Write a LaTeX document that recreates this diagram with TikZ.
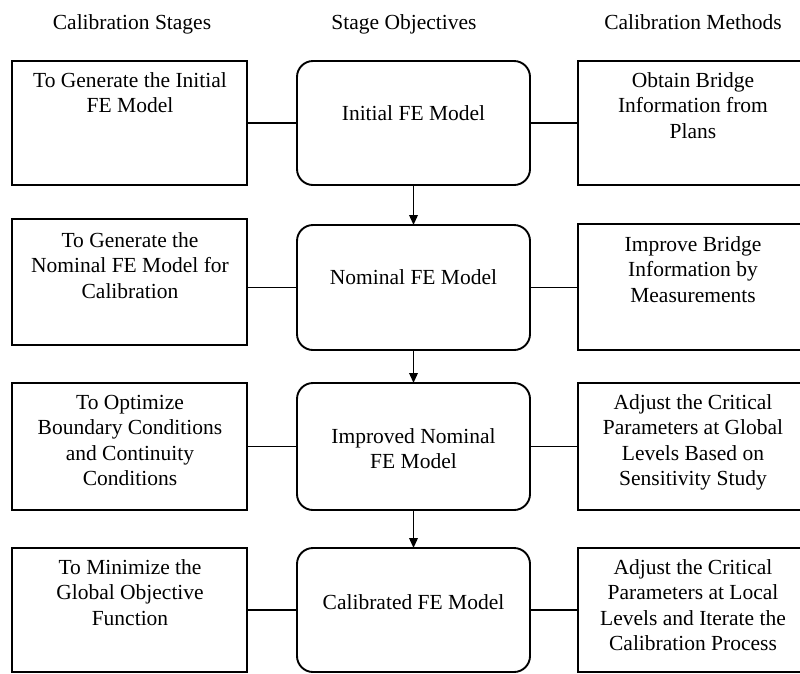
\documentclass[tikz,border=0pt]{standalone}
\usepackage{fontspec}
\setmainfont{Liberation Serif}
\usetikzlibrary{arrows.meta}
\begin{document}
\begin{tikzpicture}[x=1pt,y=-1pt,
  box/.style={draw, line width=1.9pt, inner sep=0pt, outer sep=0pt},
  rbox/.style={box, rounded corners=16pt},
  txt/.style={font=\fontsize{21.5}{25.5}\selectfont, align=center, inner sep=0pt},
  link/.style={line width=1.9pt},
  flow/.style={line width=1.9pt, -{Triangle[length=10pt,width=8.5pt]}}]
\clip (0,0) rectangle (800,673);
\fill[white] (0,0) rectangle (800,673);
% headers
\node[txt, anchor=base] (h1) at (132,29) {Calibration Stages};
\node[txt, anchor=base] (h2) at (404,29) {Stage Objectives};
\node[txt, anchor=base] (h3) at (693,29) {Calibration Methods};
% left boxes
\node[box, minimum width=235pt, minimum height=124pt] (L1) at (129.5,123) {};
\node[box, minimum width=235pt, minimum height=126pt] (L2) at (129.5,282) {};
\node[box, minimum width=235pt, minimum height=127pt] (L3) at (129.5,446.5) {};
\node[box, minimum width=235pt, minimum height=124pt] (L4) at (129.5,610) {};
% middle boxes
\node[rbox, minimum width=233pt, minimum height=124pt] (M1) at (413.5,123) {};
\node[rbox, minimum width=233pt, minimum height=125pt] (M2) at (413.5,287.5) {};
\node[rbox, minimum width=233pt, minimum height=127pt] (M3) at (413.5,446.5) {};
\node[rbox, minimum width=233pt, minimum height=124pt] (M4) at (413.5,610) {};
% right boxes
\node[box, minimum width=234pt, minimum height=124pt] (R1) at (695,123) {};
\node[box, minimum width=234pt, minimum height=126pt] (R2) at (695,287) {};
\node[box, minimum width=234pt, minimum height=127pt] (R3) at (695,446.5) {};
\node[box, minimum width=234pt, minimum height=124pt] (R4) at (695,610) {};
% texts left
\node[txt, anchor=north] (tL1) at (130,72) {To Generate the Initial\\FE Model};
\node[txt, anchor=north] (tL2) at (130,232) {To Generate the\\Nominal FE Model for\\Calibration};
\node[txt, anchor=north] (tL3) at (130,395) {To Optimize\\Boundary Conditions\\and Continuity\\Conditions};
\node[txt, anchor=north] (tL4) at (130,559) {To Minimize the\\Global Objective\\Function};
% texts middle
\node[txt] (tM1) at (413.5,113) {Initial FE Model};
\node[txt] (tM2) at (413.5,277) {Nominal FE Model};
\node[txt] (tM3) at (413.5,448.5) {Improved Nominal\\FE Model};
\node[txt] (tM4) at (413.5,602) {Calibrated FE Model};
% texts right
\node[txt, anchor=north] (tR1) at (693,72) {Obtain Bridge\\Information from\\Plans};
\node[txt, anchor=north] (tR2) at (693,236) {Improve Bridge\\Information by\\Measurements};
\node[txt, anchor=north] (tR3) at (693,394) {Adjust the Critical\\Parameters at Global\\Levels Based on\\Sensitivity Study};
\node[txt, anchor=north] (tR4) at (693,559) {Adjust the Critical\\Parameters at Local\\Levels and Iterate the\\Calibration Process};
% connectors
\draw[link] (L1.east) -- (M1.west);
\draw[link] (M1.east) -- (R1.west);
\draw[link] (M2.west -| L2.east) -- (M2.west);
\draw[link] (M2.east) -- (M2.east -| R2.west);
\draw[link] (L3.east) -- (M3.west);
\draw[link] (M3.east) -- (R3.west);
\draw[link] (L4.east) -- (M4.west);
\draw[link] (M4.east) -- (R4.west);
% flow arrows
\draw[flow] (M1.south) -- (M2.north);
\draw[flow] (M2.south) -- (M3.north);
\draw[flow] (M3.south) -- (M4.north);
\end{tikzpicture}
\end{document}
